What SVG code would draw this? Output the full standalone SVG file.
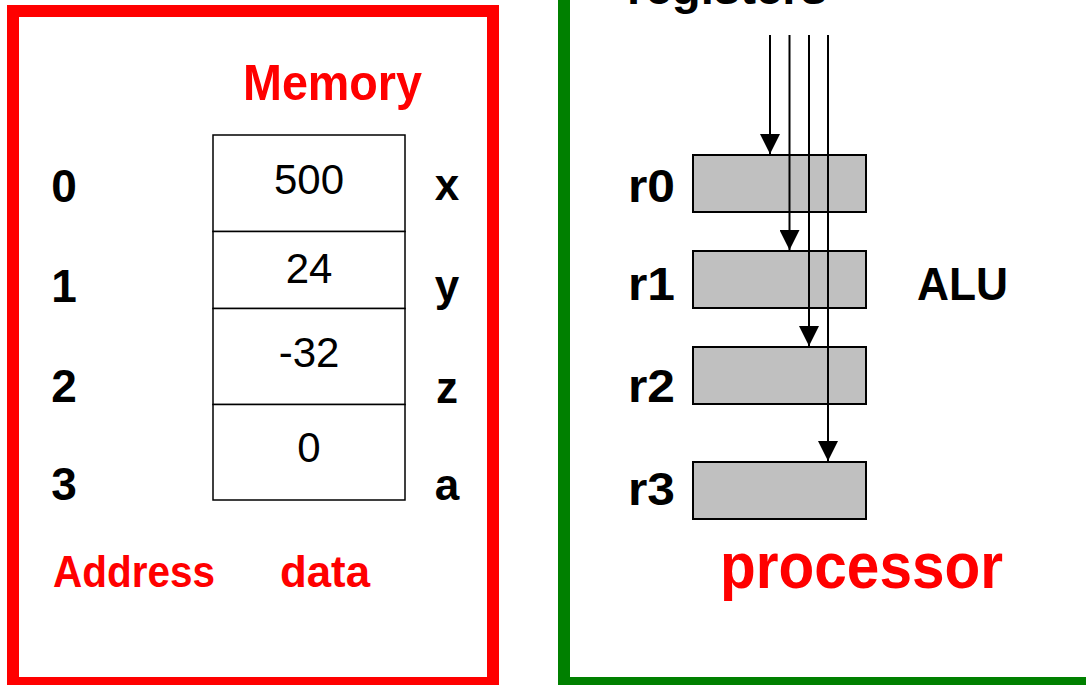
<svg xmlns="http://www.w3.org/2000/svg" width="1086" height="685" viewBox="0 0 1086 685">
  <style>
    .lbl { font-family: "Liberation Sans", Arial, sans-serif; font-weight: bold; fill: #000; }
    .red { font-family: "Liberation Sans", Arial, sans-serif; font-weight: bold; fill: #FF0000; }
    .val { font-family: "Liberation Sans", Arial, sans-serif; font-size: 42px; fill: #000; text-anchor: middle; }
    .cell { fill: #FFFFFF; stroke: #000; stroke-width: 1.5; }
    .reg { fill: #C0C0C0; stroke: #000; stroke-width: 2; }
    .wire { stroke: #000; stroke-width: 2; fill: none; marker-end: url(#ah); }
  </style>
  <defs>
    <marker id="ah" viewBox="0 0 10 10" refX="10" refY="5" markerUnits="userSpaceOnUse" markerWidth="20" markerHeight="20" orient="auto">
      <path d="M0,0 L10,5 L0,10 Z" fill="#000"/>
    </marker>
  </defs>
  <rect width="1086" height="685" fill="#FFFFFF"/>

  <g id="memory-frame">
    <rect x="13" y="11" width="480" height="672" fill="none" stroke="#FF0000" stroke-width="12"/>
    <text class="red" x="243" y="100" font-size="50" textLength="179" lengthAdjust="spacingAndGlyphs">Memory</text>
    <text class="red" x="53" y="587" font-size="44" textLength="162" lengthAdjust="spacingAndGlyphs">Address</text>
    <text class="red" x="280" y="587" font-size="44" textLength="90" lengthAdjust="spacingAndGlyphs">data</text>
  </g>

  <g id="memory-cells">
    <rect class="cell" x="213" y="135" width="192" height="96.5"/>
    <rect class="cell" x="213" y="231.5" width="192" height="77"/>
    <rect class="cell" x="213" y="308.5" width="192" height="96"/>
    <rect class="cell" x="213" y="404.5" width="192" height="95.5"/>
    <text class="val" x="309" y="194">500</text>
    <text class="val" x="309" y="283">24</text>
    <text class="val" x="309" y="367">-32</text>
    <text class="val" x="309" y="462">0</text>
  </g>

  <g id="addresses" class="lbl" font-size="46" text-anchor="middle">
    <text x="64" y="202">0</text>
    <text x="64" y="302">1</text>
    <text x="64" y="402">2</text>
    <text x="64" y="500">3</text>
  </g>

  <g id="names" class="lbl" font-size="44" text-anchor="middle">
    <text x="447" y="200">x</text>
    <text x="447" y="301">y</text>
    <text x="447" y="403">z</text>
    <text x="447" y="500">a</text>
  </g>

  <g id="processor-frame">
    <rect x="564" y="-20" width="600" height="703" fill="none" stroke="#008000" stroke-width="12"/>
    <text class="lbl" x="627" y="4" font-size="46" textLength="200" lengthAdjust="spacingAndGlyphs">registers</text>
    <text class="red" x="720" y="588" font-size="64" textLength="283" lengthAdjust="spacingAndGlyphs">processor</text>
    <text class="lbl" x="917" y="300" font-size="46" textLength="91" lengthAdjust="spacingAndGlyphs">ALU</text>
  </g>

  <g id="r0">
    <rect class="reg" x="693" y="155" width="173" height="57"/>
    <text class="lbl" x="628" y="202" font-size="46" textLength="47" lengthAdjust="spacingAndGlyphs">r0</text>
  </g>
  <g id="r1">
    <rect class="reg" x="693" y="251" width="173" height="57"/>
    <text class="lbl" x="628" y="300" font-size="46" textLength="47" lengthAdjust="spacingAndGlyphs">r1</text>
  </g>
  <g id="r2">
    <rect class="reg" x="693" y="347" width="173" height="57"/>
    <text class="lbl" x="628" y="402" font-size="46" textLength="47" lengthAdjust="spacingAndGlyphs">r2</text>
  </g>
  <g id="r3">
    <rect class="reg" x="693" y="462" width="173" height="57"/>
    <text class="lbl" x="628" y="505" font-size="46" textLength="47" lengthAdjust="spacingAndGlyphs">r3</text>
  </g>

  <g id="connectors">
    <line class="wire" x1="770" y1="35" x2="770" y2="154"/>
    <line class="wire" x1="789.5" y1="35" x2="789.5" y2="250"/>
    <line class="wire" x1="809" y1="35" x2="809" y2="346"/>
    <line class="wire" x1="828" y1="35" x2="828" y2="461"/>
  </g>
</svg>
